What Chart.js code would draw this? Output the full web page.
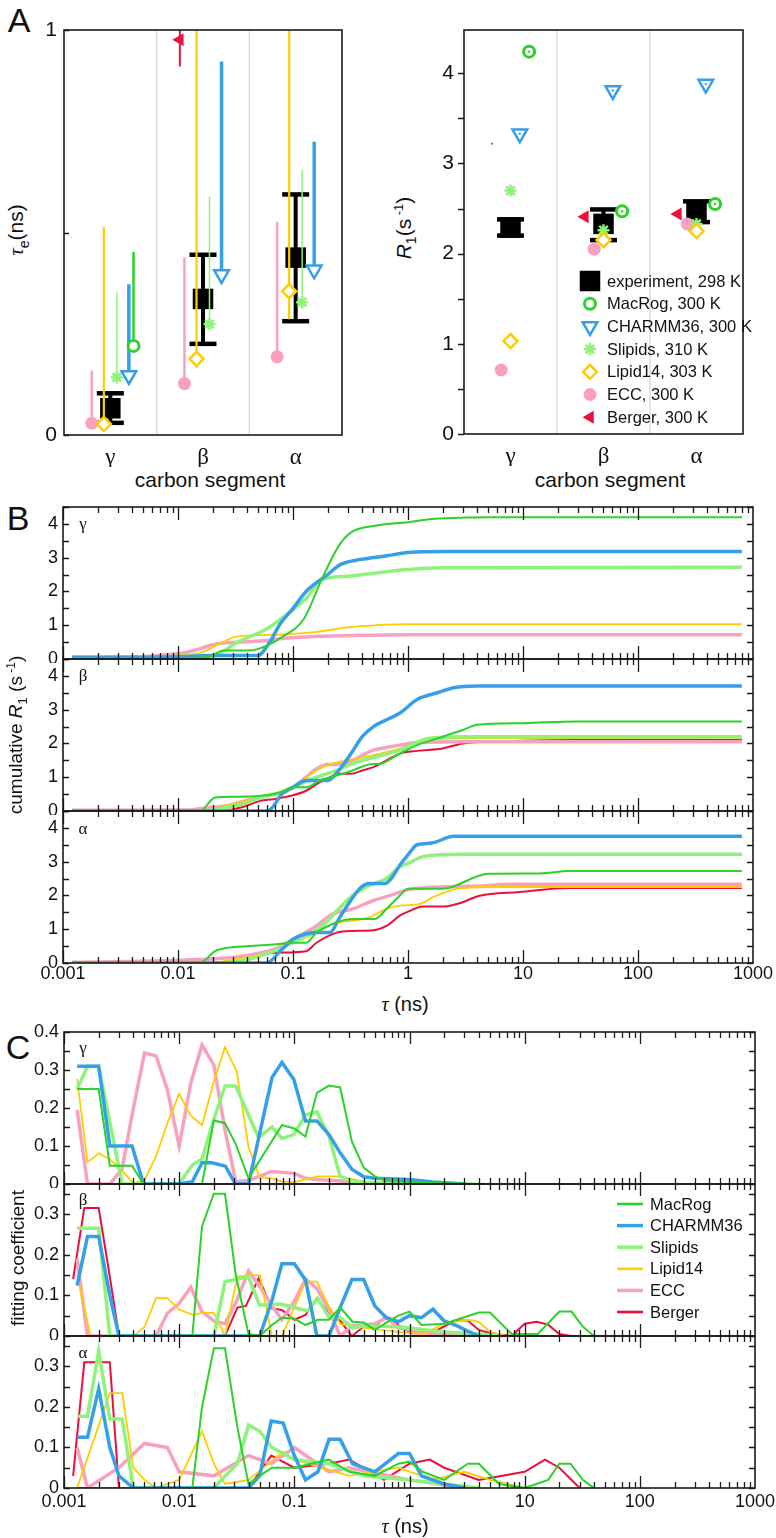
<!DOCTYPE html>
<html>
<head>
<meta charset="utf-8">
<script src="https://cdn.jsdelivr.net/npm/chart.js@4.4.1/dist/chart.umd.min.js"></script>
<style>
body { margin: 0; background: #fff; }
#fig { position: relative; width: 776px; height: 1538px; overflow: hidden; font-family: "Liberation Sans", Arial, sans-serif; color: #111; }
#fig canvas { position: absolute; }
.txt { position: absolute; white-space: nowrap; transform: translate(-50%, -50%); line-height: 1; }
.rot { transform: translate(-50%, -50%) rotate(-90deg); }
.gr { font-family: "Liberation Serif", serif; }
</style>
</head>
<body>
<div id="fig"></div>
<script>
// ---------- data ----------
const MODELS = ['MacRog', 'CHARMM36', 'Slipids', 'Lipid14', 'ECC', 'Berger'];
const SEGMENTS = ['γ', 'β', 'α'];
const TAU_TICKS = [0.001, 0.01, 0.1, 1, 10, 100, 1000];
const TAU_TICK_LABELS = ['0.001', '0.01', '0.1', '1', '10', '100', '1000'];

// A left: effective correlation time (ns), per segment γ, β, α
const TE_EXP = [0.066, 0.336, 0.438];
const TE_EXP_LO = [0.03, 0.225, 0.281];
const TE_EXP_HI = [0.103, 0.445, 0.594];
const TE_MACROG = [0.22, null, null];
const TE_MACROG_HI = [0.452, null, null];
const TE_CHARMM = [0.147, 0.396, 0.408];
const TE_CHARMM_HI = [0.372, 0.922, 0.724];
const TE_SLIPIDS = [0.142, 0.274, 0.328];
const TE_SLIPIDS_HI = [0.352, 0.589, 0.655];
const TE_LIPID14 = [0.027, 0.188, 0.355];
const TE_LIPID14_LO = [0.027, 0.166, 0.286];
const TE_LIPID14_HI = [0.513, 1.2, 1.2];
const TE_ECC = [0.029, 0.127, 0.193];
const TE_ECC_HI = [0.159, 0.438, 0.526];
const TE_BERGER = [null, 0.976, null];
const TE_BERGER_LO = [null, 0.91, null];
const TE_BERGER_HI = [null, 1.05, null];

// A right: R1 (1/s)
const R1_EXP = [2.29, 2.33, 2.47];
const R1_EXP_LO = [2.2, 2.15, 2.35];
const R1_EXP_HI = [2.38, 2.49, 2.58];
const R1_MACROG = [4.24, 2.47, 2.55];
const R1_CHARMM = [3.33, 3.81, 3.88];
const R1_SLIPIDS = [2.70, 2.26, 2.33];
const R1_LIPID14 = [1.03, 2.15, 2.25];
const R1_ECC = [0.71, 2.05, 2.33];
const R1_BERGER = [3.22, 2.41, 2.44];

// B: cumulative R1 vs tau (ns) -> [tau, value]
const B_G_MACROG = [[0.0012,0.02],[0.01,0.03],[0.018,0.05],[0.025,0.25],[0.04,0.25],[0.05,0.3],[0.08,0.65],[0.125,1.2],[0.18,2.4],[0.25,3.35],[0.32,3.75],[0.53,3.95],[1,4.05],[1.7,4.15],[5.6,4.2],[800,4.2]];
const B_G_CHARMM = [[0.0012,0.05],[0.01,0.07],[0.02,0.1],[0.049,0.1],[0.063,0.5],[0.076,1.0],[0.1,1.5],[0.13,2.0],[0.2,2.5],[0.26,2.8],[0.39,2.95],[0.64,3.05],[1,3.15],[2.1,3.18],[800,3.18]];
const B_G_SLIPIDS = [[0.0012,0.05],[0.02,0.1],[0.033,0.5],[0.06,0.9],[0.08,1.2],[0.13,1.8],[0.18,2.35],[0.29,2.45],[0.53,2.55],[1,2.65],[2,2.7],[800,2.72]];
const B_G_LIPID14 = [[0.0012,0.02],[0.01,0.1],[0.016,0.2],[0.023,0.45],[0.031,0.65],[0.044,0.7],[0.088,0.73],[0.16,0.8],[0.32,0.95],[0.53,1.0],[1,1.03],[800,1.03]];
const B_G_ECC = [[0.0012,0.02],[0.0067,0.1],[0.012,0.2],[0.022,0.45],[0.036,0.5],[0.06,0.55],[0.088,0.62],[0.16,0.67],[0.35,0.7],[1,0.72],[800,0.72]];

const B_B_MACROG = [[0.0012,0],[0.0155,0],[0.021,0.4],[0.03,0.42],[0.052,0.45],[0.077,0.55],[0.1,0.7],[0.132,0.7],[0.17,0.9],[0.24,1.05],[0.33,1.2],[0.46,1.38],[0.57,1.4],[0.85,1.7],[1.2,1.95],[2,2.2],[3,2.4],[4,2.55],[10,2.6],[30,2.65],[800,2.65]];
const B_B_CHARMM = [[0.0012,0],[0.059,0],[0.066,0.1],[0.08,0.5],[0.1,0.7],[0.13,0.9],[0.2,0.9],[0.25,1.2],[0.32,1.7],[0.4,2.2],[0.5,2.5],[0.65,2.7],[0.85,2.9],[1.2,3.3],[1.8,3.5],[2.5,3.65],[4,3.7],[800,3.7]];
const B_B_SLIPIDS = [[0.0012,0],[0.016,0],[0.022,0.05],[0.036,0.2],[0.052,0.4],[0.08,0.55],[0.1,0.7],[0.16,1.0],[0.24,1.2],[0.33,1.4],[0.46,1.55],[0.6,1.65],[0.85,1.8],[1.5,2.15],[3,2.2],[800,2.2]];
const B_B_LIPID14 = [[0.0012,0],[0.018,0],[0.026,0.15],[0.039,0.3],[0.059,0.45],[0.088,0.55],[0.11,0.8],[0.16,1.2],[0.22,1.4],[0.43,1.6],[0.85,1.85],[1.5,2.1],[3,2.15],[800,2.17]];
const B_B_ECC = [[0.0012,0.02],[0.012,0.03],[0.018,0.1],[0.026,0.15],[0.043,0.35],[0.07,0.5],[0.1,0.7],[0.13,1.0],[0.16,1.25],[0.2,1.38],[0.25,1.38],[0.33,1.5],[0.4,1.65],[0.5,1.8],[0.7,1.9],[0.85,1.95],[1.2,2.03],[3,2.05],[800,2.05]];
const B_B_BERGER = [[0.0012,0],[0.026,0],[0.03,0.05],[0.039,0.15],[0.052,0.3],[0.068,0.35],[0.096,0.45],[0.13,0.6],[0.17,0.85],[0.21,1.0],[0.25,1.1],[0.32,1.1],[0.4,1.2],[0.5,1.3],[0.65,1.5],[0.85,1.7],[1.2,1.78],[2,1.85],[3,2.0],[10,2.08],[30,2.1],[800,2.1]];

const B_A_MACROG = [[0.0012,0],[0.0155,0],[0.021,0.35],[0.027,0.45],[0.043,0.5],[0.068,0.55],[0.1,0.6],[0.13,0.6],[0.16,0.9],[0.24,1.2],[0.33,1.3],[0.51,1.3],[0.65,1.6],[0.85,2.0],[1.0,2.2],[2.0,2.2],[5,2.64],[14,2.65],[25,2.72],[800,2.72]];
const B_A_CHARMM = [[0.0012,0],[0.059,0],[0.08,0.4],[0.1,0.7],[0.16,0.9],[0.21,0.9],[0.25,1.3],[0.31,1.8],[0.38,2.2],[0.46,2.35],[0.63,2.35],[0.75,2.6],[0.85,2.9],[1.0,3.2],[1.2,3.5],[1.6,3.55],[2.5,3.75],[800,3.75]];
const B_A_SLIPIDS = [[0.0012,0],[0.02,0],[0.04,0.1],[0.068,0.35],[0.1,0.6],[0.13,0.8],[0.18,1.1],[0.25,1.6],[0.33,2.0],[0.46,2.3],[0.65,2.5],[0.85,2.85],[1.0,2.95],[1.35,3.15],[3,3.22],[800,3.22]];
const B_A_LIPID14 = [[0.0012,0],[0.018,0],[0.03,0.1],[0.059,0.3],[0.1,0.6],[0.16,0.9],[0.24,1.2],[0.33,1.25],[0.46,1.35],[0.65,1.6],[0.85,1.7],[1.27,1.75],[1.65,1.95],[2.7,2.2],[5.1,2.25],[800,2.25]];
const B_A_ECC = [[0.0012,0.02],[0.015,0.1],[0.036,0.2],[0.068,0.4],[0.1,0.7],[0.16,1.1],[0.22,1.45],[0.33,1.6],[0.5,1.85],[0.7,2.0],[0.85,2.1],[1.1,2.2],[4.2,2.28],[8.1,2.33],[800,2.33]];
const B_A_BERGER = [[0.0012,0],[0.03,0],[0.04,0.1],[0.068,0.3],[0.13,0.35],[0.16,0.6],[0.24,0.9],[0.33,0.95],[0.5,0.97],[0.65,1.1],[0.85,1.4],[1.0,1.52],[1.35,1.67],[2.0,1.67],[2.8,1.77],[4.2,1.99],[9.3,2.1],[25,2.22],[800,2.22]];

// C: fitting coefficients vs tau (ns) -> [tau, value]
const C_G_MACROG = [[0.0013,0.25],[0.002,0.25],[0.0025,0.048],[0.0039,0.048],[0.0049,0],[0.0158,0],[0.02,0.167],[0.025,0.16],[0.031,0.105],[0.04,0.015],[0.078,0.155],[0.1,0.146],[0.125,0.125],[0.157,0.24],[0.2,0.259],[0.25,0.254],[0.316,0.112],[0.4,0.043],[0.5,0.02],[0.63,0.008],[1,0.005],[2,0.002],[5,0]];
const C_G_CHARMM = [[0.0013,0.31],[0.002,0.31],[0.0025,0.1],[0.0039,0.1],[0.0049,0],[0.01,0],[0.013,0.006],[0.0158,0.056],[0.0193,0.056],[0.0252,0.047],[0.0308,0],[0.04,0],[0.064,0.28],[0.078,0.32],[0.099,0.275],[0.125,0.166],[0.157,0.166],[0.2,0.13],[0.25,0.082],[0.316,0.039],[0.4,0.019],[0.5,0.015],[1,0.012],[1.6,0.005],[3,0]];
const C_G_SLIPIDS = [[0.0013,0.25],[0.0016,0.31],[0.002,0.31],[0.0032,0],[0.01,0],[0.013,0.05],[0.0158,0.066],[0.02,0.17],[0.025,0.258],[0.031,0.258],[0.04,0.182],[0.049,0.122],[0.064,0.15],[0.078,0.12],[0.099,0.13],[0.125,0.182],[0.157,0.19],[0.2,0.125],[0.25,0.02],[0.316,0.006],[0.5,0.004],[1,0.003],[3,0]];
const C_G_LIPID14 = [[0.0013,0.277],[0.0016,0.057],[0.002,0.081],[0.0025,0.065],[0.0032,0.035],[0.004,0.002],[0.005,0.01],[0.0063,0.073],[0.0079,0.16],[0.01,0.237],[0.0126,0.18],[0.0158,0.155],[0.02,0.27],[0.025,0.36],[0.0316,0.296],[0.04,0.098],[0.05,0.018],[0.063,0.015],[0.079,0.006],[0.1,0.005],[0.16,0.02],[0.25,0.02],[0.4,0.006],[1,0]];
const C_G_ECC = [[0.0013,0.195],[0.0016,0],[0.0025,0],[0.0032,0.04],[0.0039,0.182],[0.005,0.345],[0.0063,0.337],[0.0079,0.248],[0.01,0.1],[0.0126,0.265],[0.0158,0.366],[0.02,0.313],[0.025,0.142],[0.031,0.006],[0.04,0.01],[0.05,0.02],[0.063,0.033],[0.1,0.028],[0.125,0.015],[0.157,0.012],[0.25,0.008],[0.4,0]];

const C_B_MACROG = [[0.0013,0],[0.013,0],[0.0158,0.27],[0.02,0.35],[0.025,0.35],[0.031,0.15],[0.04,0.005],[0.05,0],[0.064,0.027],[0.078,0.045],[0.1,0.043],[0.125,0.027],[0.16,0.04],[0.2,0.04],[0.25,0.07],[0.32,0.035],[0.4,0.033],[0.5,0.015],[0.63,0.033],[0.8,0.05],[1.0,0.06],[1.27,0.027],[2.0,0.03],[4.0,0.058],[5.0,0.058],[7.7,0.005],[13,0.005],[20,0.06],[25.5,0.06],[32,0.023],[40,0]];
const C_B_CHARMM = [[0.0013,0.124],[0.0016,0.245],[0.002,0.245],[0.0025,0.1],[0.003,0],[0.05,0],[0.064,0.088],[0.078,0.178],[0.1,0.178],[0.125,0.138],[0.157,0],[0.2,0],[0.25,0.07],[0.316,0.139],[0.4,0.139],[0.5,0.074],[0.63,0.045],[0.8,0.035],[1.0,0.05],[1.27,0.045],[1.6,0.066],[2.0,0.037],[2.6,0.025],[3.2,0.012],[4,0]];
const C_B_SLIPIDS = [[0.0013,0.265],[0.002,0.265],[0.0025,0],[0.02,0],[0.025,0.134],[0.032,0.14],[0.04,0.145],[0.05,0.076],[0.064,0.078],[0.078,0.078],[0.1,0.07],[0.13,0.062],[0.16,0.092],[0.2,0.046],[0.25,0.045],[0.32,0.02],[0.4,0.025],[0.8,0.023],[1.0,0.02],[2,0.01],[4,0.005],[6,0]];
const C_B_LIPID14 = [[0.0013,0.15],[0.0017,0],[0.004,0],[0.005,0.022],[0.0063,0.093],[0.0079,0.093],[0.01,0.065],[0.013,0.052],[0.0158,0.057],[0.02,0.057],[0.025,0],[0.032,0.146],[0.04,0.15],[0.05,0.15],[0.064,0],[0.078,0],[0.1,0.07],[0.125,0.134],[0.157,0.134],[0.2,0.072],[0.25,0.03],[0.4,0.02],[0.8,0.01],[1.3,0.005],[2,0.03],[3.2,0.04],[4,0.035],[5,0.01],[7,0]];
const C_B_ECC = [[0.0013,0.19],[0.0016,0],[0.0063,0],[0.0079,0.056],[0.01,0.08],[0.0126,0.12],[0.0158,0.06],[0.02,0.037],[0.025,0.03],[0.032,0.09],[0.04,0.16],[0.05,0.122],[0.064,0.074],[0.078,0.04],[0.1,0.085],[0.125,0.14],[0.157,0.117],[0.2,0.065],[0.25,0],[0.32,0.025],[0.5,0.03],[0.63,0.045],[0.8,0.02],[1.5,0.007],[3,0]];
const C_B_BERGER = [[0.0012,0.14],[0.0015,0.315],[0.002,0.315],[0.0025,0.146],[0.003,0],[0.025,0],[0.032,0.07],[0.038,0.074],[0.049,0.142],[0.064,0.068],[0.078,0.064],[0.1,0.04],[0.125,0.052],[0.157,0.093],[0.2,0.056],[0.25,0.038],[0.316,0],[0.4,0.023],[0.5,0.023],[0.62,0.049],[0.8,0.027],[1.04,0.007],[1.55,0.007],[2.5,0.038],[3.2,0.038],[4,0.015],[5,0.007],[7.7,0],[10,0.03],[12.7,0.035],[16,0.028],[20,0.005],[25,0]];

const C_A_MACROG = [[0.0013,0],[0.013,0],[0.0158,0.2],[0.02,0.345],[0.025,0.345],[0.032,0.15],[0.04,0.01],[0.05,0.03],[0.064,0.05],[0.1,0.05],[0.2,0.07],[0.3,0.04],[0.5,0.03],[0.8,0.06],[1,0.065],[1.3,0.04],[2,0.02],[3.2,0.06],[4,0.06],[6,0.01],[10,0],[16,0.02],[20,0.06],[25,0.06],[32,0.02],[40,0]];
const C_A_CHARMM = [[0.0013,0.125],[0.0016,0.125],[0.002,0.245],[0.0025,0.1],[0.003,0.03],[0.004,0],[0.04,0],[0.05,0.03],[0.063,0.165],[0.08,0.16],[0.1,0.08],[0.125,0.02],[0.16,0.04],[0.2,0.12],[0.25,0.12],[0.32,0.06],[0.5,0.04],[0.8,0.085],[1,0.085],[1.27,0.03],[2,0.01],[3,0]];
const C_A_SLIPIDS = [[0.0013,0.177],[0.0016,0.177],[0.002,0.337],[0.0025,0.17],[0.0032,0.17],[0.004,0],[0.02,0],[0.032,0.06],[0.04,0.155],[0.05,0.14],[0.064,0.1],[0.1,0.07],[0.2,0.06],[0.4,0.03],[1,0.02],[2,0.01],[4,0]];
const C_A_LIPID14 = [[0.0013,0],[0.0025,0.234],[0.0032,0.234],[0.004,0.05],[0.005,0.02],[0.0063,0],[0.01,0.02],[0.0158,0.14],[0.02,0.06],[0.025,0.01],[0.04,0.02],[0.08,0.09],[0.1,0.07],[0.3,0.03],[0.8,0.05],[1.6,0.02],[3,0.04],[5,0.02],[10,0]];
const C_A_ECC = [[0.0013,0.1],[0.0016,0],[0.003,0.05],[0.005,0.11],[0.0079,0.1],[0.01,0.04],[0.02,0.03],[0.04,0.08],[0.063,0.06],[0.1,0.1],[0.2,0.04],[0.3,0.05],[1,0.02],[3,0]];
const C_A_BERGER = [[0.0012,0.03],[0.0015,0.31],[0.0025,0.31],[0.003,0],[0.04,0],[0.063,0.08],[0.1,0.05],[0.2,0.06],[0.3,0.07],[0.6,0.02],[1,0.06],[1.5,0.07],[2,0.05],[4,0.02],[10,0.04],[15,0.07],[20,0.05],[30,0]];

// ---------- styles ----------
const STYLE = {
  MacRog:   { color: '#2ad22a', lw: 2,   errW: 2.5, mk: { style: 'circle',   r: 5.5, bw: 3,   fill: '#fff' } },
  CHARMM36: { color: '#35a0e8', lw: 3.5, errW: 3.5, mk: { style: 'triangle', r: 8.5, bw: 2.5, fill: '#fff', rot: 180 } },
  Slipids:  { color: '#8ef37a', lw: 3.5, errW: 1.5, mk: { style: 'star',     r: 6,   bw: 2.5 } },
  Lipid14:  { color: '#ffcc00', lw: 1.8, errW: 2.2, mk: { style: 'rectRot',  r: 7,   bw: 2.5, fill: '#fff' } },
  ECC:      { color: '#f7a1bf', lw: 3.5, errW: 2.5, mk: { style: 'circle',   r: 6.5, bw: 0 } },
  Berger:   { color: '#e8103c', lw: 2,   errW: 2,   mk: { style: 'triangle', r: 7.5, bw: 0, rot: -90 } }
};
const LEGEND_A = ['experiment, 298 K', 'MacRog, 300 K', 'CHARMM36, 300 K', 'Slipids, 310 K', 'Lipid14, 303 K', 'ECC, 300 K', 'Berger, 300 K'];

Chart.defaults.font.family = "'Liberation Sans', Arial, sans-serif";
Chart.defaults.color = '#111';

const fig = document.getElementById('fig');

// frame, inward ticks, separators; settings hang on the canvas element
const framePlugin = {
  id: 'frame',
  beforeDatasetsDraw(chart) {
    const o = chart.canvas.frameCfg;
    if (!o || !o.vlines) return;
    const { ctx, chartArea: a } = chart, xs = chart.scales.x;
    ctx.save();
    ctx.strokeStyle = '#d6dce0';
    ctx.lineWidth = 1.5;
    ctx.beginPath();
    o.vlines.forEach(v => {
      const x = xs.getPixelForValue(v);
      ctx.moveTo(x, a.top); ctx.lineTo(x, a.bottom);
    });
    ctx.stroke();
    ctx.restore();
  },
  afterDatasetsDraw(chart) {
    const o = chart.canvas.frameCfg;
    if (!o) return;
    const { ctx, chartArea: a } = chart, xs = chart.scales.x, ys = chart.scales.y;
    ctx.save();
    ctx.strokeStyle = '#1a1a1a';
    ctx.lineWidth = 1.3;
    ctx.beginPath();
    if (o.logX) {
      for (let e = -3; e < 3; e++) {
        for (let m = 1; m < 10; m++) {
          const x = Math.round(xs.getPixelForValue(m * Math.pow(10, e))) + 0.5;
          const len = m === 1 ? o.logX.major : o.logX.minor;
          ctx.moveTo(x, a.bottom); ctx.lineTo(x, a.bottom - len);
          ctx.moveTo(x, a.top); ctx.lineTo(x, a.top + len);
        }
      }
    }
    if (o.yTicks) {
      const t = o.yTicks;
      const n = Math.floor((ys.max - ys.min) / t.step + 1e-6);
      for (let k = 0; k <= n; k++) {
        const y = Math.round(ys.getPixelForValue(ys.min + k * t.step)) + 0.5;
        if (t.left === 'in') { ctx.moveTo(a.left, y); ctx.lineTo(a.left + t.len, y); }
        if (t.left === 'out') { ctx.moveTo(a.left, y); ctx.lineTo(a.left - t.len, y); }
        if (t.right) { ctx.moveTo(a.right, y); ctx.lineTo(a.right - t.len, y); }
      }
    }
    ctx.stroke();
    ctx.lineWidth = 1.6;
    ctx.strokeRect(a.left, a.top, a.right - a.left, a.bottom - a.top);
    ctx.restore();
  }
};

// legends drawn inside the plot box
const boxLegend = {
  id: 'boxLegend',
  afterDraw(chart) {
    const o = chart.canvas.legendCfg;
    if (!o) return;
    const { ctx, chartArea: a } = chart;
    ctx.save();
    ctx.font = o.font;
    ctx.textBaseline = 'middle';
    o.items.forEach((it, i) => {
      const y = a.top + o.y0 + i * o.dy;
      const mx = a.left + o.mx;
      if (it.line) {
        ctx.strokeStyle = it.color;
        ctx.lineWidth = it.lw;
        ctx.beginPath();
        ctx.moveTo(mx - 13, y); ctx.lineTo(mx + 13, y);
        ctx.stroke();
      } else {
        ctx.fillStyle = it.fill;
        ctx.strokeStyle = it.color;
        ctx.lineWidth = it.bw;
        Chart.helpers.drawPoint(ctx, { pointStyle: it.style, radius: it.r, rotation: it.rot || 0, borderWidth: it.bw }, mx, y);
      }
      ctx.fillStyle = '#111';
      ctx.fillText(it.text, a.left + o.tx, y + 1);
    });
    ctx.restore();
  }
};
Chart.register(framePlugin, boxLegend);

function place(box, m, frameCfg, legendCfg) {
  const c = document.createElement('canvas');
  const w = box.r - box.l + m.l + m.r, h = box.b - box.t + m.t + m.b;
  c.width = w; c.height = h;
  c.style.left = (box.l - m.l) + 'px';
  c.style.top = (box.t - m.t) + 'px';
  c.style.width = w + 'px';
  c.style.height = h + 'px';
  c.frameCfg = frameCfg;
  c.legendCfg = legendCfg;
  fig.appendChild(c);
  return c;
}
const fitX = m => s => { s.height = m.b; s.paddingLeft = 0; s.paddingRight = 0; };
const fitY = m => s => { s.width = m.l; s.paddingTop = 0; s.paddingBottom = 0; };

function baseOptions(m, scales) {
  return {
    responsive: false, animation: false, devicePixelRatio: 1, events: [],
    layout: { padding: { top: m.t, right: m.r, left: 0, bottom: 0 } },
    scales,
    plugins: { legend: { display: false }, tooltip: { enabled: false } }
  };
}

function addText(html, x, y, css, cls) {
  const d = document.createElement('div');
  d.className = 'txt' + (cls ? ' ' + cls : '');
  d.innerHTML = html;
  d.style.left = x + 'px';
  d.style.top = y + 'px';
  d.style.cssText += css || '';
  fig.appendChild(d);
}

// ---------- panel A ----------
function pts(vals, off) { return vals.map((v, i) => ({ x: i + 1 + off, y: v })); }
function segs(lo, hi, off) {
  const d = [];
  lo.forEach((l, i) => {
    if (l == null) return;
    const x = i + 1 + off;
    d.push({ x, y: l }, { x, y: hi[i] }, { x, y: null });
  });
  return d;
}
function markerDs(name, vals, off, radii) {
  const s = STYLE[name], mk = s.mk;
  return {
    label: name, data: pts(vals, off), order: 0, clip: false, showLine: false,
    pointStyle: mk.style, pointRadius: radii || mk.r, pointRotation: mk.rot || 0,
    pointBackgroundColor: mk.fill || s.color, pointBorderColor: s.color, pointBorderWidth: mk.bw
  };
}
// small centre dot seen inside the hollow markers of the R1 plot
function dotDs(name, vals, off) {
  return { data: pts(vals, off), order: -1, clip: false, showLine: false, pointStyle: 'circle', pointRadius: 1.2,
    pointBackgroundColor: STYLE[name].color, pointBorderWidth: 0 };
}
function errDs(color, width, lo, hi, off, order) {
  return { data: segs(lo, hi, off), showLine: true, spanGaps: false, borderColor: color, borderWidth: width, pointRadius: 0, order: order, clip: 0 };
}
function expDs(vals, lo, hi) {
  return [
    { data: pts(vals, 0), order: 3, clip: false, showLine: false, pointStyle: 'rect', pointRadius: 14.5, pointBackgroundColor: '#000', pointBorderColor: '#000', pointBorderWidth: 0 },
    { data: pts(lo, 0).concat(pts(hi, 0)), order: 3, clip: false, showLine: false, pointStyle: 'line', pointRadius: 13.5, pointBorderColor: '#000', pointBorderWidth: 4.5 },
    errDs('#000', 4, lo, hi, 0, 4)
  ];
}
function catX(m) {
  return {
    type: 'linear', min: 0.5, max: 3.5, afterFit: fitX(m),
    afterBuildTicks: s => { s.ticks = [1, 2, 3].map(v => ({ value: v })); },
    grid: { display: false, drawTicks: false }, border: { display: false },
    ticks: { padding: 9, font: { family: "'Liberation Serif', serif", size: 23 }, callback: (v, i) => SEGMENTS[i] }
  };
}

const OFF_L = { Berger: -0.25, ECC: -0.2, Lipid14: -0.07, Slipids: 0.07, CHARMM36: 0.2, MacRog: 0.25 };
{
  const m = { l: 30, r: 6, t: 14, b: 32 };
  const box = { l: 64, t: 26, r: 354, b: 435 };
  const datasets = [
    markerDs('MacRog', TE_MACROG, OFF_L.MacRog),
    markerDs('CHARMM36', TE_CHARMM, OFF_L.CHARMM36),
    markerDs('Slipids', TE_SLIPIDS, OFF_L.Slipids),
    markerDs('Lipid14', TE_LIPID14, OFF_L.Lipid14),
    markerDs('ECC', TE_ECC, OFF_L.ECC),
    markerDs('Berger', TE_BERGER, OFF_L.Berger),
    errDs(STYLE.MacRog.color, STYLE.MacRog.errW, TE_MACROG, TE_MACROG_HI, OFF_L.MacRog, 2),
    errDs(STYLE.CHARMM36.color, STYLE.CHARMM36.errW, TE_CHARMM, TE_CHARMM_HI, OFF_L.CHARMM36, 2),
    errDs(STYLE.Slipids.color, STYLE.Slipids.errW, TE_SLIPIDS, TE_SLIPIDS_HI, OFF_L.Slipids, 2),
    errDs(STYLE.Lipid14.color, STYLE.Lipid14.errW, TE_LIPID14_LO, TE_LIPID14_HI, OFF_L.Lipid14, 2),
    errDs(STYLE.ECC.color, STYLE.ECC.errW, TE_ECC, TE_ECC_HI, OFF_L.ECC, 2),
    errDs(STYLE.Berger.color, STYLE.Berger.errW, TE_BERGER_LO, TE_BERGER_HI, OFF_L.Berger, 2)
  ].concat(expDs(TE_EXP, TE_EXP_LO, TE_EXP_HI));
  const frame = { vlines: [1.5, 2.5], yTicks: { step: 0.5, left: 'in', len: 5 } };
  new Chart(place(box, m, frame), {
    type: 'scatter',
    data: { datasets },
    options: baseOptions(m, {
      x: catX(m),
      y: {
        min: 0, max: 1, afterFit: fitY(m),
        grid: { display: false, drawTicks: false }, border: { display: false },
        ticks: { stepSize: 0.5, padding: 7, font: { size: 21 }, callback: v => (v === 0 || v === 1) ? String(v) : '' }
      }
    })
  });
}

const OFF_R = { Berger: -0.2, ECC: -0.1, Lipid14: 0, Slipids: 0, CHARMM36: 0.1, MacRog: 0.2 };
{
  const m = { l: 34, r: 6, t: 14, b: 32 };
  const box = { l: 464, t: 26, r: 755, b: 434 };
  const datasets = [
    dotDs('MacRog', R1_MACROG, OFF_R.MacRog),
    dotDs('CHARMM36', R1_CHARMM, OFF_R.CHARMM36),
    markerDs('MacRog', R1_MACROG, OFF_R.MacRog),
    markerDs('CHARMM36', R1_CHARMM, OFF_R.CHARMM36),
    markerDs('Lipid14', R1_LIPID14, OFF_R.Lipid14),
    markerDs('Slipids', R1_SLIPIDS, OFF_R.Slipids),
    markerDs('ECC', R1_ECC, OFF_R.ECC),
    markerDs('Berger', R1_BERGER, OFF_R.Berger, [1.5, 7.5, 7.5])
  ].concat(expDs(R1_EXP, R1_EXP_LO, R1_EXP_HI));
  const legendItems = [{ text: LEGEND_A[0], style: 'rect', r: 14.5, fill: '#000', color: '#000', bw: 0 }]
    .concat(MODELS.map((n, i) => ({ text: LEGEND_A[i + 1], style: STYLE[n].mk.style, r: STYLE[n].mk.r, rot: STYLE[n].mk.rot,
      fill: STYLE[n].mk.fill || STYLE[n].color, color: STYLE[n].color, bw: STYLE[n].mk.bw })));
  const frame = { vlines: [1.5, 2.5], yTicks: { step: 0.5, left: 'out', len: 6 } };
  const legend = { items: legendItems, font: "16.5px 'Liberation Sans', Arial, sans-serif", y0: 251, dy: 22.7, mx: 126, tx: 143 };
  new Chart(place(box, m, frame, legend), {
    type: 'scatter',
    data: { datasets },
    options: baseOptions(m, {
      x: catX(m),
      y: {
        min: 0, max: 4.48, afterFit: fitY(m),
        grid: { display: false, drawTicks: false }, border: { display: false },
        ticks: { stepSize: 0.5, includeBounds: false, padding: 10, font: { size: 21 }, callback: v => Number.isInteger(v) ? String(v) : '' }
      }
    })
  });
}

// ---------- panels B and C ----------
function curveDs(name, pairs, smooth) {
  const s = STYLE[name];
  return {
    label: name, data: pairs.map(p => ({ x: p[0], y: p[1] })), showLine: true,
    borderColor: s.color, borderWidth: s.lw, pointRadius: 0, tension: 0,
    cubicInterpolationMode: smooth ? 'monotone' : 'default'
  };
}
function logX(m, showLabels, pad) {
  return {
    type: 'logarithmic', min: 0.001, max: 1000, afterFit: fitX(m),
    afterBuildTicks: s => { s.ticks = TAU_TICKS.map(v => ({ value: v })); },
    grid: { display: false, drawTicks: false }, border: { display: false },
    ticks: { display: showLabels, autoSkip: false, maxRotation: 0, padding: pad, font: { size: 18 }, callback: (v, i) => TAU_TICK_LABELS[i] }
  };
}
function stripChart(box, series, smooth, yMax, yStep, yLabel, last, legend) {
  const m = { l: 30, r: 26, t: 12, b: last ? 30 : 4 };
  const frame = { logX: { major: smooth ? 13 : 12, minor: 6 }, yTicks: { step: yStep, left: 'in', right: true, len: 6 } };
  new Chart(place(box, m, frame, legend), {
    type: 'scatter',
    data: { datasets: series.map(([n, d]) => curveDs(n, d, smooth)) },
    options: baseOptions(m, {
      x: logX(m, last, smooth ? 0 : 3),
      y: {
        min: 0, max: yMax, afterFit: fitY(m),
        grid: { display: false, drawTicks: false }, border: { display: false },
        ticks: { stepSize: yStep, includeBounds: false, padding: 5, font: { size: 18 }, callback: yLabel }
      }
    })
  });
}
const intLabel = v => Number.isInteger(v) ? String(v) : '';
const tenthLabel = v => {
  const k = Math.round(v * 20);
  if (k % 2) return '';
  return k === 0 ? '0' : (k / 20).toFixed(1);
};

stripChart({ l: 63, t: 507, r: 753, b: 659 },
  [['MacRog', B_G_MACROG], ['CHARMM36', B_G_CHARMM], ['Slipids', B_G_SLIPIDS], ['Lipid14', B_G_LIPID14], ['ECC', B_G_ECC]],
  true, 4.5, 0.5, intLabel, false);
stripChart({ l: 63, t: 659, r: 753, b: 811 },
  [['MacRog', B_B_MACROG], ['CHARMM36', B_B_CHARMM], ['Slipids', B_B_SLIPIDS], ['Lipid14', B_B_LIPID14], ['ECC', B_B_ECC], ['Berger', B_B_BERGER]],
  true, 4.5, 0.5, intLabel, false);
stripChart({ l: 63, t: 811, r: 753, b: 963 },
  [['MacRog', B_A_MACROG], ['CHARMM36', B_A_CHARMM], ['Slipids', B_A_SLIPIDS], ['Lipid14', B_A_LIPID14], ['ECC', B_A_ECC], ['Berger', B_A_BERGER]],
  true, 4.5, 0.5, intLabel, true);

const legendC = {
  items: MODELS.map(n => ({ text: n, line: true, color: STYLE[n].color, lw: Math.max(STYLE[n].lw, 2.6) })),
  font: "16.5px 'Liberation Sans', Arial, sans-serif", y0: 20, dy: 21.6, mx: 566, tx: 586
};
stripChart({ l: 64, t: 1032, r: 755, b: 1184 },
  [['MacRog', C_G_MACROG], ['CHARMM36', C_G_CHARMM], ['Slipids', C_G_SLIPIDS], ['Lipid14', C_G_LIPID14], ['ECC', C_G_ECC]],
  false, 0.4, 0.05, tenthLabel, false);
stripChart({ l: 64, t: 1184, r: 755, b: 1336 },
  [['MacRog', C_B_MACROG], ['CHARMM36', C_B_CHARMM], ['Slipids', C_B_SLIPIDS], ['Lipid14', C_B_LIPID14], ['ECC', C_B_ECC], ['Berger', C_B_BERGER]],
  false, 0.374, 0.05, tenthLabel, false, legendC);
stripChart({ l: 64, t: 1336, r: 755, b: 1488 },
  [['MacRog', C_A_MACROG], ['CHARMM36', C_A_CHARMM], ['Slipids', C_A_SLIPIDS], ['Lipid14', C_A_LIPID14], ['ECC', C_A_ECC], ['Berger', C_A_BERGER]],
  false, 0.375, 0.05, tenthLabel, true);

// ---------- text ----------
addText('A', 19, 20, 'font-size:34px;');
addText('B', 18, 518, 'font-size:34px;');
addText('C', 18, 1047, 'font-size:34px;');
addText('<span class="gr"><i>τ</i></span><sub style="font-size:14px">e</sub>(ns)', 18, 230, 'font-size:21px;', 'rot');
addText('<i>R</i><sub style="font-size:14px">1</sub>(s<sup style="font-size:13px"> -1</sup>)', 405, 228, 'font-size:21px;', 'rot');
addText('carbon segment', 210, 479, 'font-size:21px;');
addText('carbon segment', 610, 479, 'font-size:21px;');
addText('cumulative <i>R</i><sub style="font-size:13px">1</sub> (s<sup style="font-size:12px"> -1</sup>)', 17, 735, 'font-size:19px;', 'rot');
addText('fitting coefficient', 17, 1258, 'font-size:19px;', 'rot');
addText('<span class="gr"><i>τ</i></span> (ns)', 405, 1004, 'font-size:20px;');
addText('<span class="gr"><i>τ</i></span> (ns)', 405, 1526, 'font-size:20px;');
[['γ', 523], ['β', 675], ['α', 828], ['γ', 1047], ['β', 1199], ['α', 1352]].forEach(([t, y]) => addText(t, 83, y, 'font-size:17px;', 'gr'));
</script>
</body>
</html>
